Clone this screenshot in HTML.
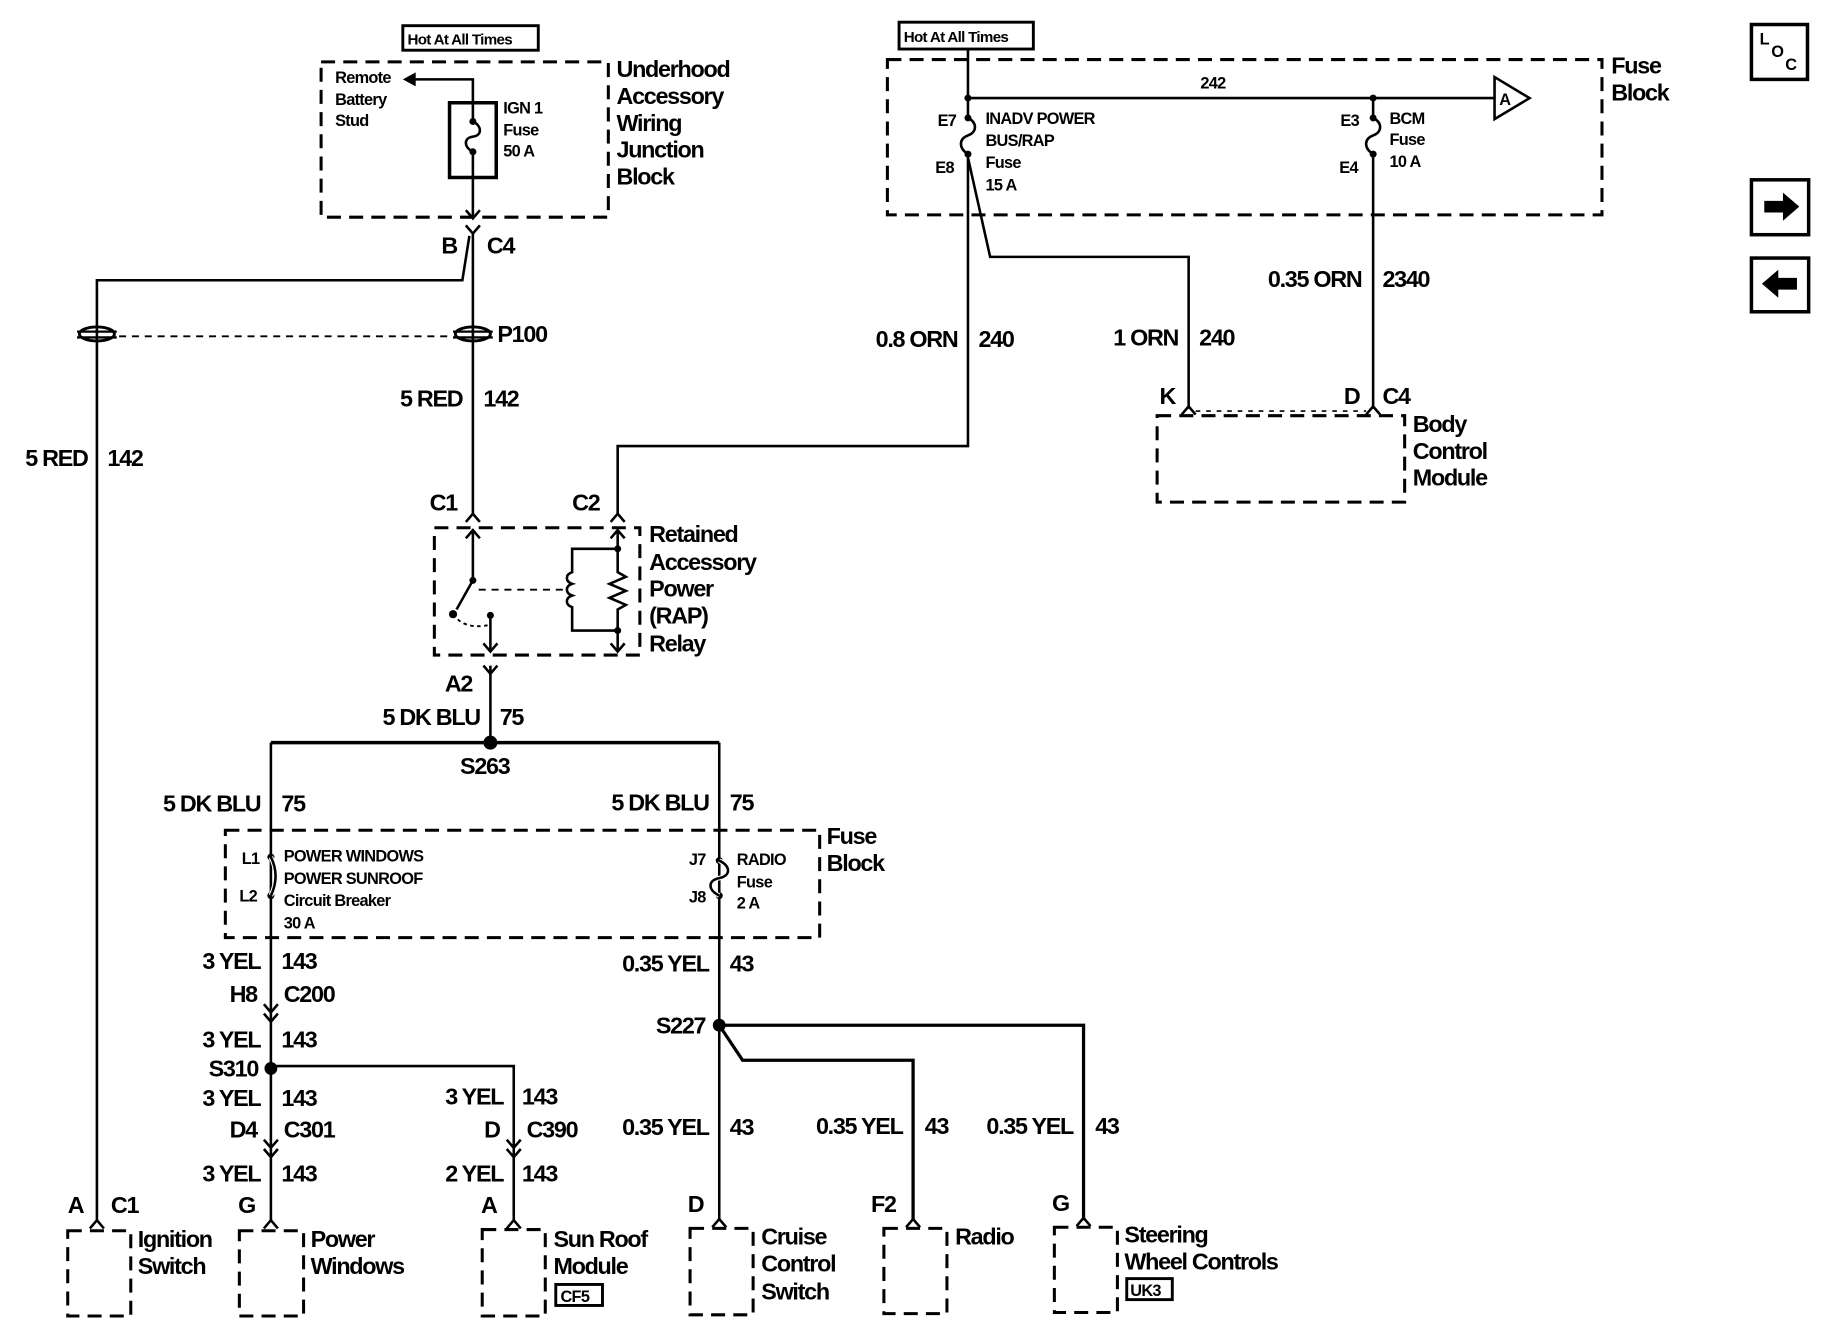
<!DOCTYPE html>
<html><head><meta charset="utf-8"><style>
html,body{margin:0;padding:0;background:#fff;}
svg{display:block;}
text{font-family:"Liberation Sans",sans-serif;fill:#000;}
.b{font-size:20px;letter-spacing:-1.1px;font-weight:bold;}
.s{font-size:14px;font-weight:bold;letter-spacing:-0.6px;}
.w{stroke:#000;stroke-width:2.2;fill:none;}
.d{stroke:#000;stroke-width:2.6;fill:none;stroke-dasharray:12 7;}
.r{text-anchor:end;}
</style></head><body>
<svg width="1832" height="1344" viewBox="0 0 1569 1151" preserveAspectRatio="none" xmlns="http://www.w3.org/2000/svg">
<rect width="1600" height="1200" fill="#fff"/>
<!-- TOP LEFT -->
<rect x="345" y="22" width="116" height="21" fill="none" stroke="#000" stroke-width="2.5"/>
<text x="349" y="38" class="s" style="font-size:13px">Hot At All Times</text>
<rect x="275" y="53" width="246" height="133" class="d"/>
<text class="b" x="528" y="66">Underhood</text>
<text class="b" x="528" y="89">Accessory</text>
<text class="b" x="528" y="112">Wiring</text>
<text class="b" x="528" y="135">Junction</text>
<text class="b" x="528" y="158">Block</text>
<text class="s" x="287" y="71">Remote</text>
<text class="s" x="287" y="90">Battery</text>
<text class="s" x="287" y="108">Stud</text>
<path class="w" d="M405 88 V68 H352"/>
<path d="M345 68 L356 62 L356 74 Z"/>
<rect x="385" y="88" width="40" height="64" fill="none" stroke="#000" stroke-width="3"/>
<circle cx="405" cy="104" r="3"/><circle cx="405" cy="130" r="3"/>
<path class="w" d="M405 88 V104 C413 108 413 116 405 117 C397 118 397 126 405 130 V186"/>
<text class="s" x="431" y="97">IGN 1</text>
<text class="s" x="431" y="116">Fuse</text>
<text class="s" x="431" y="134">50 A</text>
<path class="w" d="M399 180 L405 187 L411 180"/>
<path class="w" d="M399 193 L405 200 L411 193"/>
<text class="b" x="378" y="217">B</text>
<text class="b" x="417" y="217">C4</text>
<path class="w" d="M405 200 V440"/>
<path class="w" d="M402 202 L396 240 H83 V1045"/>
<!-- P100 -->
<g><ellipse cx="405" cy="286" rx="15" ry="6" fill="none" stroke="#000" stroke-width="2.5"/><line x1="388" y1="284" x2="422" y2="284" stroke="#000" stroke-width="2"/><line x1="388" y1="289" x2="422" y2="289" stroke="#000" stroke-width="2"/></g>
<g><ellipse cx="83" cy="286" rx="15" ry="6" fill="none" stroke="#000" stroke-width="2.5"/><line x1="66" y1="284" x2="100" y2="284" stroke="#000" stroke-width="2"/><line x1="66" y1="289" x2="100" y2="289" stroke="#000" stroke-width="2"/></g>
<line x1="102" y1="288" x2="388" y2="288" stroke="#000" stroke-width="1.6" stroke-dasharray="6 5"/>
<text class="b" x="426" y="293">P100</text>
<text class="b r" x="396" y="348">5 RED</text><text class="b" x="414" y="348">142</text>
<text class="b r" x="75" y="399">5 RED</text><text class="b" x="92" y="399">142</text>
<text class="b" x="368" y="437">C1</text><text class="b" x="490" y="437">C2</text>
<path class="w" d="M399 447 L405 440 L411 447"/>
<path class="w" d="M523 447 L529 440 L535 447"/>
<path class="w" d="M529 440 V382 H829 V135"/>
<!-- RAP relay -->
<rect x="372" y="452" width="176" height="109" class="d"/>
<text class="b" x="556" y="464">Retained</text>
<text class="b" x="556" y="488">Accessory</text>
<text class="b" x="556" y="511">Power</text>
<text class="b" x="556" y="534">(RAP)</text>
<text class="b" x="556" y="558">Relay</text>
<path class="w" d="M405 455 V497 L391 522"/>
<path class="w" d="M399 461 L405 454 L411 461"/>
<circle cx="405" cy="497" r="3"/><circle cx="388" cy="526" r="3.5"/><circle cx="420" cy="527" r="3"/>
<path d="M388 526 Q398 540 420 535" fill="none" stroke="#000" stroke-width="1.6" stroke-dasharray="3 3"/>
<path class="w" d="M420 527 V558"/><path class="w" d="M414 551 L420 558 L426 551"/>
<line x1="410" y1="505" x2="485" y2="505" stroke="#000" stroke-width="1.6" stroke-dasharray="6 5"/>
<path class="w" d="M529 470 H490 V490 C484 492 484 498 490 500 C484 502 484 508 490 510 C484 512 484 518 490 520 V540 H529"/>
<path class="w" d="M529 455 V490 L536 494 L522 500 L536 506 L522 512 L536 518 L529 522 V558"/>
<path class="w" d="M523 461 L529 454 L535 461"/><path class="w" d="M523 551 L529 558 L535 551"/>
<circle cx="529" cy="470" r="3"/><circle cx="529" cy="540" r="3"/>
<text class="b" x="381" y="592">A2</text>
<path class="w" d="M414 570 L420 577 L426 570"/>
<path class="w" d="M420 570 V636"/>
<text class="b r" x="411" y="621">5 DK BLU</text><text class="b" x="428" y="621">75</text>
<path d="M232 636 H616" stroke="#000" stroke-width="3" fill="none"/>
<circle cx="420" cy="636" r="6"/>
<text class="b" x="394" y="663">S263</text>
<path class="w" d="M232 636 V1045 M616 636 V1045"/>
<text class="b r" x="223" y="695">5 DK BLU</text><text class="b" x="241" y="695">75</text>
<text class="b r" x="607" y="694">5 DK BLU</text><text class="b" x="625" y="694">75</text>
<rect x="193" y="711" width="509" height="92" class="d"/>
<text class="b" x="708" y="723">Fuse</text><text class="b" x="708" y="746">Block</text>
<text class="s" x="207" y="740">L1</text><text class="s" x="205" y="772">L2</text>
<circle cx="232" cy="734" r="3"/><circle cx="232" cy="767" r="3"/>
<path d="M232 734 Q240 750 232 767" fill="none" stroke="#fff" stroke-width="4"/>
<path class="w" d="M232 734 Q240 750 232 767"/>
<text class="s" x="243" y="738">POWER WINDOWS</text>
<text class="s" x="243" y="757">POWER SUNROOF</text>
<text class="s" x="243" y="776">Circuit Breaker</text>
<text class="s" x="243" y="795">30 A</text>
<text class="s" x="590" y="741">J7</text><text class="s" x="590" y="773">J8</text>
<circle cx="616" cy="737" r="3"/><circle cx="616" cy="767" r="3"/>
<path d="M616 737 C626 742 626 750 616 752 C606 754 606 762 616 767" fill="none" stroke="#fff" stroke-width="4"/>
<path class="w" d="M616 737 C626 742 626 750 616 752 C606 754 606 762 616 767"/>
<text class="s" x="631" y="741">RADIO</text><text class="s" x="631" y="760">Fuse</text><text class="s" x="631" y="778">2 A</text>
<text class="b r" x="223" y="830">3 YEL</text><text class="b" x="241" y="830">143</text>
<text class="b r" x="220" y="858">H8</text><text class="b" x="243" y="858">C200</text>
<path class="w" d="M226 860 L232 867 L238 860 M226 868 L232 875 L238 868"/>
<text class="b r" x="223" y="897">3 YEL</text><text class="b" x="241" y="897">143</text>
<text class="b r" x="221" y="922">S310</text>
<circle cx="232" cy="915" r="5.5"/>
<path class="w" d="M232 913 H440 V1045"/>
<text class="b r" x="223" y="947">3 YEL</text><text class="b" x="241" y="947">143</text>
<text class="b r" x="220" y="974">D4</text><text class="b" x="243" y="974">C301</text>
<path class="w" d="M226 976 L232 983 L238 976 M226 984 L232 991 L238 984"/>
<text class="b r" x="223" y="1012">3 YEL</text><text class="b" x="241" y="1012">143</text>
<text class="b r" x="431" y="946">3 YEL</text><text class="b" x="447" y="946">143</text>
<text class="b r" x="428" y="974">D</text><text class="b" x="451" y="974">C390</text>
<path class="w" d="M434 976 L440 983 L446 976 M434 984 L440 991 L446 984"/>
<text class="b r" x="431" y="1012">2 YEL</text><text class="b" x="447" y="1012">143</text>
<text class="b r" x="607" y="832">0.35 YEL</text><text class="b" x="625" y="832">43</text>
<text class="b r" x="604" y="885">S227</text>
<circle cx="616" cy="878" r="5.5"/>
<path d="M616 878 H928 V1045" stroke="#000" stroke-width="2.8" fill="none"/>
<path d="M616 878 L636 908 H782 V1045" stroke="#000" stroke-width="2.8" fill="none"/>
<text class="b r" x="607" y="972">0.35 YEL</text><text class="b" x="625" y="972">43</text>
<text class="b r" x="773" y="971">0.35 YEL</text><text class="b" x="792" y="971">43</text>
<text class="b r" x="919" y="971">0.35 YEL</text><text class="b" x="938" y="971">43</text>
<!-- bottom connectors -->
<text class="b" x="58" y="1039">A</text><text class="b" x="95" y="1039">C1</text>
<text class="b" x="204" y="1039">G</text>
<text class="b" x="412" y="1039">A</text>
<text class="b" x="589" y="1038">D</text>
<text class="b" x="746" y="1038">F2</text>
<text class="b" x="901" y="1037">G</text>
<path class="w" d="M77 1052 L83 1045 L89 1052 M226 1052 L232 1045 L238 1052 M434 1052 L440 1045 L446 1052 M610 1051 L616 1044 L622 1051 M776 1051 L782 1044 L788 1051 M922 1050 L928 1043 L934 1050"/>
<rect x="58" y="1054" width="54" height="73" class="d"/>
<rect x="205" y="1054" width="55" height="73" class="d"/>
<rect x="413" y="1053" width="54" height="74" class="d"/>
<rect x="591" y="1052" width="54" height="74" class="d"/>
<rect x="757" y="1052" width="54" height="73" class="d"/>
<rect x="903" y="1051" width="54" height="73" class="d"/>
<text class="b" x="118" y="1068">Ignition</text><text class="b" x="118" y="1091">Switch</text>
<text class="b" x="266" y="1068">Power</text><text class="b" x="266" y="1091">Windows</text>
<text class="b" x="474" y="1068">Sun Roof</text><text class="b" x="474" y="1091">Module</text>
<rect x="476" y="1100" width="40" height="18" fill="none" stroke="#000" stroke-width="2.5"/>
<text class="s" x="480" y="1115">CF5</text>
<text class="b" x="652" y="1066">Cruise</text><text class="b" x="652" y="1089">Control</text><text class="b" x="652" y="1113">Switch</text>
<text class="b" x="818" y="1066">Radio</text>
<text class="b" x="963" y="1064">Steering</text><text class="b" x="963" y="1087">Wheel Controls</text>
<rect x="965" y="1095" width="39" height="18" fill="none" stroke="#000" stroke-width="2.5"/>
<text class="s" x="968" y="1110">UK3</text>
<!-- TOP RIGHT -->
<rect x="770" y="19" width="115" height="23" fill="none" stroke="#000" stroke-width="2.5"/>
<text x="774" y="36" class="s" style="font-size:13px">Hot At All Times</text>
<rect x="760" y="51" width="612" height="133" class="d"/>
<text class="b" x="1380" y="63">Fuse</text><text class="b" x="1380" y="86">Block</text>
<path class="w" d="M829 42 V100 M829 84 H1280 M1176 84 V100"/>
<circle cx="829" cy="84" r="3"/><circle cx="1176" cy="84" r="3"/>
<text class="s" x="1028" y="76">242</text>
<path d="M1280 66 L1310 84 L1280 102 Z" fill="#fff" stroke="#000" stroke-width="2.2"/>
<text class="s" x="1284" y="90">A</text>
<circle cx="829" cy="101" r="3"/><circle cx="829" cy="132" r="3"/>
<path class="w" d="M829 101 C837 105 837 113 829 116 C821 119 821 127 829 132"/>
<text class="s" x="803" y="108">E7</text><text class="s" x="801" y="148">E8</text>
<text class="s" x="844" y="106">INADV POWER</text><text class="s" x="844" y="125">BUS/RAP</text><text class="s" x="844" y="144">Fuse</text><text class="s" x="844" y="163">15 A</text>
<path class="w" d="M829 135 L848 220 H1018 V350"/>
<circle cx="1176" cy="101" r="3"/><circle cx="1176" cy="132" r="3"/>
<path class="w" d="M1176 101 C1184 105 1184 113 1176 116 C1168 119 1168 127 1176 132 V350"/>
<text class="s" x="1148" y="108">E3</text><text class="s" x="1147" y="148">E4</text>
<text class="s" x="1190" y="106">BCM</text><text class="s" x="1190" y="124">Fuse</text><text class="s" x="1190" y="143">10 A</text>
<text class="b r" x="1166" y="246">0.35 ORN</text><text class="b" x="1184" y="246">2340</text>
<text class="b r" x="820" y="297">0.8 ORN</text><text class="b" x="838" y="297">240</text>
<text class="b r" x="1009" y="296">1 ORN</text><text class="b" x="1027" y="296">240</text>
<text class="b" x="993" y="346">K</text><text class="b" x="1151" y="346">D</text><text class="b" x="1184" y="346">C4</text>
<path class="w" d="M1012 355 L1018 348 L1024 355 M1170 355 L1176 348 L1182 355"/>
<line x1="1024" y1="352" x2="1170" y2="352" stroke="#000" stroke-width="1.4" stroke-dasharray="4 5"/>
<rect x="991" y="356" width="212" height="74" class="d"/>
<text class="b" x="1210" y="370">Body</text><text class="b" x="1210" y="393">Control</text><text class="b" x="1210" y="416">Module</text>
<!-- icons -->
<rect x="1500" y="21" width="48" height="47" fill="none" stroke="#000" stroke-width="3"/>
<text x="1507" y="38" style="font-size:14px;font-weight:bold">L</text>
<text x="1517" y="49" style="font-size:14px;font-weight:bold">O</text>
<text x="1529" y="60" style="font-size:14px;font-weight:bold">C</text>
<rect x="1500" y="154" width="49" height="47" fill="none" stroke="#000" stroke-width="3"/>
<path d="M1511 172 H1527 V165 L1541 177 L1527 189 V182 H1511 Z"/>
<rect x="1500" y="221" width="49" height="46" fill="none" stroke="#000" stroke-width="3"/>
<path d="M1539 238 H1523 V231 L1509 243 L1523 255 V248 H1539 Z"/>
</svg>
</body></html>
